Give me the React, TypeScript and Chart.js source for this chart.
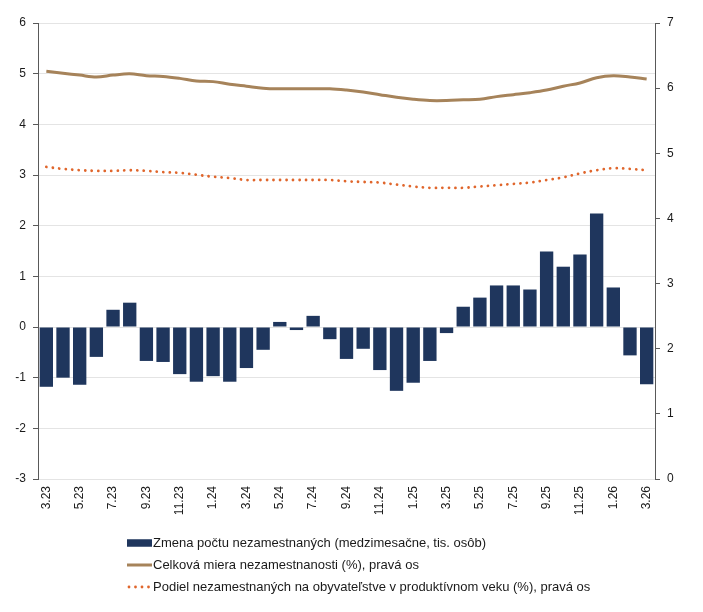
import { useEffect, useRef } from "react";
import { Chart, registerables } from "chart.js";

Chart.register(...registerables);

const months = [
  "3.23", "4.23", "5.23", "6.23", "7.23", "8.23", "9.23", "10.23", "11.23", "12.23",
  "1.24", "2.24", "3.24", "4.24", "5.24", "6.24", "7.24", "8.24", "9.24", "10.24",
  "11.24", "12.24", "1.25", "2.25", "3.25", "4.25", "5.25", "6.25", "7.25", "8.25",
  "9.25", "10.25", "11.25", "12.25", "1.26", "2.26", "3.26",
];

const changeUnemployed = [
  -1.18, -1.0, -1.14, -0.59, 0.34, 0.48, -0.67, -0.69, -0.93, -1.08,
  -0.97, -1.08, -0.81, -0.45, 0.1, -0.06, 0.22, -0.24, -0.63, -0.43,
  -0.85, -1.26, -1.1, -0.67, -0.12, 0.4, 0.58, 0.82, 0.82, 0.74,
  1.49, 1.19, 1.43, 2.24, 0.78, -0.56, -1.13,
];

const totalRate = [
  6.26, 6.23, 6.2, 6.17, 6.2, 6.22, 6.19, 6.18, 6.15, 6.11,
  6.1, 6.06, 6.03, 6.0, 5.99, 5.99, 5.99, 5.99, 5.97, 5.94,
  5.9, 5.86, 5.83, 5.81, 5.81, 5.82, 5.83, 5.87, 5.9, 5.93,
  5.97, 6.03, 6.08, 6.16, 6.19, 6.17, 6.14,
];

const shareWorkingAge = [
  4.79, 4.76, 4.74, 4.73, 4.73, 4.74, 4.73, 4.71, 4.7, 4.67,
  4.64, 4.62, 4.59, 4.59, 4.59, 4.59, 4.59, 4.59, 4.57, 4.56,
  4.55, 4.52, 4.49, 4.47, 4.47, 4.47, 4.49, 4.51, 4.53, 4.55,
  4.59, 4.63, 4.69, 4.74, 4.77, 4.76, 4.74,
];

const seriesLabels = [
  "Zmena počtu nezamestnaných (medzimesačne, tis. osôb)",
  "Celková miera nezamestnanosti (%), pravá os",
  "Podiel nezamestnaných na obyvateľstve v produktívnom veku (%), pravá os",
];

const BAR = "#1f365d";
const BROWN = "#a6835a";
const ORANGE = "#e0662c";
const FONT = '"Liberation Sans", Arial, sans-serif';
const TEXT = "#1a1a1a";

const legendPlugin = {
  id: "stackedLegend",
  afterDraw(chart: any) {
    const ctx = chart.ctx;
    const ds = chart.data.datasets;
    const x0 = 119;
    const xText = 145;
    const rows = [535, 557, 579];
    ctx.save();
    ctx.fillStyle = BAR;
    ctx.fillRect(x0, rows[0] - 3.75, 25, 7.5);
    ctx.strokeStyle = BROWN;
    ctx.lineWidth = 3;
    ctx.beginPath();
    ctx.moveTo(x0, rows[1]);
    ctx.lineTo(x0 + 25, rows[1]);
    ctx.stroke();
    ctx.fillStyle = ORANGE;
    for (let k = 0; k < 4; k++) {
      ctx.beginPath();
      ctx.arc(x0 + 2 + k * 6.5, rows[2], 1.4, 0, Math.PI * 2);
      ctx.fill();
    }
    ctx.fillStyle = TEXT;
    ctx.font = "13px " + FONT;
    ctx.textBaseline = "middle";
    ctx.textAlign = "left";
    for (let i = 0; i < 3; i++) {
      ctx.fillText(ds[i].label, xText, rows[i] + 0.5);
    }
    ctx.restore();
  },
};

export default function App() {
  const ref = useRef<HTMLCanvasElement | null>(null);

  useEffect(() => {
    if (!ref.current) return;
    const chart = new Chart(ref.current, {
      type: "bar",
      data: {
        labels: months,
        datasets: [
          {
            type: "bar",
            label: seriesLabels[0],
            data: changeUnemployed,
            backgroundColor: BAR,
            borderWidth: 0,
            barPercentage: 0.8,
            categoryPercentage: 1,
            yAxisID: "y",
            order: 3,
          },
          {
            type: "line",
            label: seriesLabels[1],
            data: totalRate,
            borderColor: BROWN,
            borderWidth: 3,
            pointRadius: 0,
            tension: 0.35,
            fill: false,
            yAxisID: "y1",
            order: 1,
          },
          {
            type: "line",
            label: seriesLabels[2],
            data: shareWorkingAge,
            borderColor: ORANGE,
            borderWidth: 2.8,
            borderDash: [0.01, 6.5],
            borderCapStyle: "round",
            pointRadius: 0,
            tension: 0.35,
            fill: false,
            yAxisID: "y1",
            order: 2,
          },
        ] as any,
      },
      options: {
        responsive: false,
        maintainAspectRatio: false,
        animation: false,
        layout: { padding: { top: 15, left: 0, right: 0, bottom: 0 } },
        plugins: {
          legend: { display: false },
          tooltip: { enabled: false },
        },
        scales: {
          x: {
            grid: { display: false, drawTicks: false },
            border: { display: false },
            ticks: {
              autoSkip: false,
              maxRotation: 90,
              minRotation: 90,
              padding: 7,
              color: TEXT,
              font: { family: FONT, size: 12 },
              callback: (_v: any, i: number) => (i % 2 === 0 ? months[i] : ""),
            },
            afterFit: (s: any) => {
              s.height = 125;
            },
          },
          y: {
            position: "left",
            min: -3,
            max: 6,
            ticks: {
              stepSize: 1,
              padding: 7,
              color: TEXT,
              font: { family: FONT, size: 12 },
            },
            grid: {
              color: "#e4e4e4",
              lineWidth: 1,
              tickLength: 5,
              tickColor: "#595959",
            },
            border: { color: "#595959", width: 1 },
            afterFit: (s: any) => {
              s.width = 30;
            },
          },
          y1: {
            position: "right",
            min: 0,
            max: 7,
            ticks: {
              stepSize: 1,
              padding: 7,
              color: TEXT,
              font: { family: FONT, size: 12 },
            },
            grid: {
              drawOnChartArea: false,
              tickLength: 5,
              tickColor: "#595959",
            },
            border: { color: "#595959", width: 1 },
            afterFit: (s: any) => {
              s.width = 40;
            },
          },
        },
      },
      plugins: [legendPlugin],
    } as any);
    return () => chart.destroy();
  }, []);

  return (
    <div style={{ width: 687, height: 596 }}>
      <canvas ref={ref} width={687} height={596} style={{ display: "block", width: 687, height: 596 }} />
    </div>
  );
}
